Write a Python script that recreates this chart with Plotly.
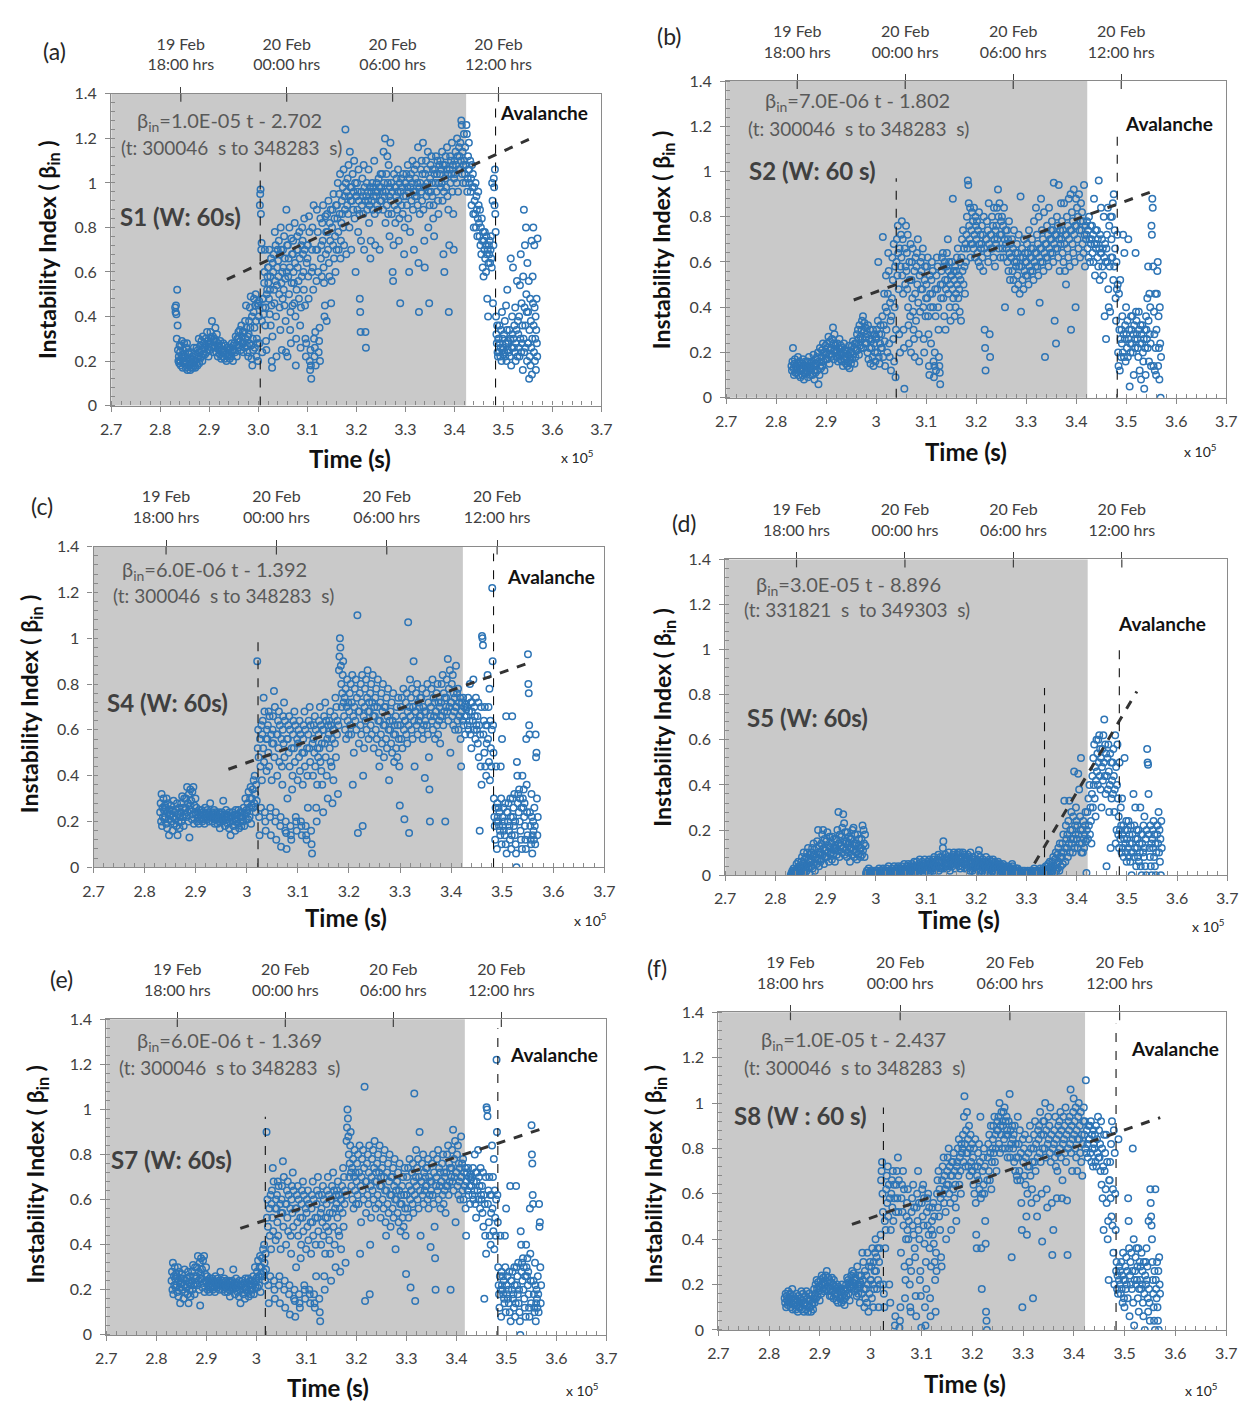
import plotly.graph_objects as go

# ---------------- DATA ----------------
T0 = 2.83          # start of first 0.01 (x1e5 s) time segment
SEG = 0.01         # segment width (x1e5 s)
# y values in hundredths, one string per 0.01 time segment (2.83 ... 3.57)
S1 = [
 "44 42 45 41 30 52 36 25 20 22 19 27", "24 20 18 27 22 29 21 17 25 19 23 28 20",
 "22 19 17 26 20 28 16 21 24 18 23 19", "18 16 21 17 24 19 22 17 20 26 18",
 "20 17 23 19 26 21 18 25 22 30 19", "24 21 27 22 29 25 20 31 23 26 28",
 "26 23 30 27 24 33 25 29 22 28", "28 25 33 30 26 38 27 31 24 29",
 "30 26 35 29 24 32 27 22 28 25", "26 23 29 25 21 27 24 22 28 25",
 "24 21 27 23 20 26 22 25 23", "23 21 26 24 22 28 25 20 27",
 "25 28 24 31 27 22 30 26 33", "30 27 34 29 25 36 31 28 33 24",
 "28 33 26 38 30 45 35 27 24 31 22", "32 38 28 44 35 49 27 21 40 18 30 25",
 "42 48 35 26 45 50 38 22 30 46 28 20", "45 40 47 28 90 95 97 86 70 73 38 24 48 44",
 "48 41 55 60 70 36 44 29 25 50 52 58 62", "55 62 48 70 41 52 58 36 66 45 20 17 31 64",
 "60 68 52 46 78 56 72 40 22 54 62 70", "65 58 74 50 44 68 34 80 70 55 25 60 48",
 "70 62 52 76 45 66 57 38 24 88 60 72 22", "72 58 66 50 80 62 34 42 28 75 55 68 45",
 "68 74 60 55 46 82 64 40 18 30 52 70 76", "62 70 56 48 78 66 36 26 44 72 58 80",
 "74 68 60 52 84 70 45 30 22 28 64 72", "66 72 58 48 85 78 20 16 25 18 12 60 70",
 "80 62 52 90 30 22 26 33 18 70 56 88", "70 78 60 24 29 35 20 84 66 72 58",
 "82 74 90 62 55 40 45 85 68 78 38", "86 78 70 92 64 58 82 74 88 46 56",
 "80 88 72 95 66 84 76 60 90 70", "90 84 100 78 70 95 86 104 66 74 82",
 "92 86 98 80 106 72 94 88 124 100 68", "96 90 102 86 108 94 80 114 98 92 70",
 "98 92 104 88 96 110 84 100 60 94", "94 100 88 96 78 106 92 86 48 42 33 74",
 "96 90 102 94 86 108 70 98 92 33 26", "94 100 88 96 92 106 82 90 98 66 74",
 "96 92 100 88 98 94 110 86 72 96", "94 100 90 96 88 102 98 70 92 104",
 "98 92 104 96 88 114 100 94 120 82", "96 104 90 112 100 86 108 94 76 98 118",
 "92 100 86 96 60 56 72 104 90 98 82", "98 94 102 88 96 106 92 74 84 100 46",
 "96 102 90 98 86 104 94 68 80 100", "100 94 104 90 98 108 84 96 60 102 78",
 "98 104 92 100 110 88 96 70 106 94", "102 96 108 94 100 90 116 64 42 98 86",
 "100 106 96 110 92 104 118 88 98 74 62", "104 98 110 94 106 100 114 80 96 46 90",
 "102 108 96 112 100 94 106 84 90 76 104", "106 100 112 96 104 110 92 86 100 108",
 "104 110 98 106 100 114 92 108 68 96 60", "108 102 112 98 106 116 94 104 88 42 72",
 "106 112 100 110 104 118 96 108 86 70 102", "110 104 114 108 100 120 112 96 106 116",
 "112 106 118 110 128 126 104 114 100 108 122", "110 104 116 100 108 126 122 96 102 112 106 118",
 "106 100 110 96 102 90 108 98 104 86 80", "98 92 86 100 80 94 88 76 84 96 90",
 "82 76 88 72 80 68 84 74 62 78 58", "74 70 78 66 72 60 76 68 48 70 40 64",
 "72 68 74 64 70 76 66 62 100 92 46 72", "102 98 90 106 86 78 40 32 28 36 24 22 30",
 "30 24 36 28 22 26 34 20 42 25 30 23", "26 32 24 38 22 28 45 20 34 52 25 29",
 "28 24 34 22 30 66 18 26 40 32 62", "30 26 36 24 44 20 28 34 56 22 38",
 "32 26 40 22 54 30 68 24 46 28 36 16", "58 30 88 24 44 72 36 26 80 50 42 20 64 28",
 "42 28 56 12 34 22 48 18 38 26 74 14 30 58", "46 80 36 24 72 44 20 30 40 16 34 48 28 22 75",
]
S2 = [
 "14 12 16 22 13 10 15 17 11 14", "13 11 15 18 10 14 16 12 9 13",
 "12 15 10 17 13 8 14 11 16 12", "14 11 16 9 13 18 12 15 10 14",
 "13 16 10 14 19 12 8 15 11 17", "15 18 12 20 6 16 10 22 14 13",
 "18 21 14 24 16 20 12 19 23 17", "20 24 17 22 27 19 15 25 21 18",
 "22 26 19 31 24 17 28 21 23 20", "21 18 24 16 22 19 26 20 17 23",
 "19 16 22 14 20 24 17 21 18 15", "17 21 14 19 16 23 13 18 20 15",
 "20 23 17 25 19 22 15 24 18 21", "24 28 21 30 26 19 32 23 27 22",
 "30 34 26 36 22 29 33 24 31 27", "24 28 20 32 17 26 22 30 15 25",
 "22 26 18 30 14 24 28 20 16 27", "26 30 20 34 60 18 28 15 24 32 22",
 "28 22 36 71 18 32 46 25 14 40 54", "30 38 20 46 64 56 24 18 42 34 12",
 "36 44 62 52 26 68 16 40 58 9 30", "60 70 54 76 64 48 28 66 20 58 72",
 "62 78 54 70 46 30 22 4 66 50 58 76", "56 64 48 72 40 32 24 60 52 36 68 20",
 "52 60 44 66 38 30 26 56 18 46 62 34", "58 64 50 70 42 28 16 54 38 60 48",
 "56 62 48 66 40 26 20 52 58 36 44", "50 58 44 62 36 28 14 10 54 46 40 24",
 "52 60 46 56 40 16 9 14 20 48 36 12", "54 62 48 58 40 30 18 14 11 6 50 44",
 "56 62 50 64 44 58 36 60 52 30 48", "58 64 52 70 46 56 60 40 50 34 54",
 "54 60 48 88 44 56 52 36 58 40 46", "56 62 50 66 44 54 48 38 60 52 34",
 "62 70 56 74 50 66 58 46 68 60", "72 80 66 96 94 86 76 70 84 62 68",
 "74 82 68 78 66 84 72 62 80 76", "70 78 64 74 60 82 68 58 72 66",
 "68 76 62 72 56 80 66 30 22 12 70", "70 78 64 74 60 86 68 28 18 72 66",
 "72 80 66 76 62 84 70 58 74 68", "76 84 70 92 80 66 86 72 62 78",
 "72 80 66 76 62 84 70 40 74 68", "66 74 60 70 56 78 64 52 68 62",
 "62 70 56 66 52 74 60 48 64 58", "60 68 54 64 50 72 58 46 62 89 38",
 "58 66 52 62 48 70 56 64 60 54", "60 68 54 64 50 74 58 62 56 66",
 "62 70 56 66 52 78 60 64 58 84", "64 72 58 68 54 80 62 42 66 60 88",
 "66 74 60 70 56 82 64 18 68 62", "68 76 62 72 58 84 66 70 64 74",
 "70 78 64 74 60 95 68 34 72 66 24", "72 80 66 76 62 94 70 56 74 68 86",
 "70 78 64 74 60 86 68 56 72 50", "72 80 66 76 62 88 70 58 74 90 30",
 "74 82 68 78 64 92 72 60 76 40 88", "76 84 70 80 66 90 74 62 78 86",
 "74 82 68 78 64 94 72 58 76 70", "72 78 66 74 62 80 70 60 76 68",
 "70 76 64 72 60 88 68 54 74 66", "68 74 62 70 58 96 66 52 72 64 84",
 "64 70 58 66 54 80 62 36 68 60 26", "66 72 60 84 48 40 76 58 38 80 62",
 "70 80 62 86 52 90 58 74 66 44 34", "60 48 72 50 20 14 46 30 12 52 26 18",
 "30 24 36 20 72 28 18 64 26 32 16 40", "28 22 34 18 70 26 30 5 24 20 36",
 "30 24 36 20 28 10 32 26 22 64 38", "34 28 26 22 18 38 30 12 24 32 8",
 "28 24 32 20 16 26 4 30 22 10 36", "30 26 44 22 58 34 16 46 28 40 24 14",
 "76 72 88 84 58 14 38 28 12 46 22 10", "30 46 56 60 14 36 22 8 40 24 0 18",
]
S4 = [
 "24 28 20 32 18 26 22 30 25 21 27", "22 26 19 30 17 24 28 21 14 25 23",
 "23 27 20 25 16 22 29 19 24 21", "21 25 18 28 14 23 20 26 17 22",
 "24 28 20 31 22 26 18 30 23 25", "26 30 22 35 24 28 20 32 13 27 34",
 "25 29 21 33 23 35 19 27 24 30", "23 26 20 24 22 19 25 21 23",
 "22 25 20 24 21 23 19 26 22", "23 21 25 22 24 20 23 28 22",
 "22 24 20 23 21 25 19 22 24", "21 23 19 22 24 20 17 23 21",
 "22 24 20 29 21 23 18 22 25", "21 23 19 22 17 24 20 14 22",
 "22 20 24 18 23 21 16 25 20", "21 23 19 25 17 22 24 20 18",
 "22 24 20 26 18 23 30 21 25", "24 28 21 33 26 22 30 35 19 27",
 "30 34 26 38 28 40 32 24 36 29", "90 52 60 48 22 14 56 44 26 62 38",
 "58 64 52 74 46 68 24 20 16 56 42 60", "56 62 50 68 44 66 22 26 14 58 38 54",
 "60 66 54 77 48 70 20 24 12 58 40", "58 64 52 68 46 62 18 22 9 56 44 36",
 "60 66 54 72 48 64 16 20 15 8 56 30", "56 62 50 66 44 60 18 14 12 52 34 40",
 "58 64 52 68 46 62 22 20 16 56 38", "54 60 48 64 42 58 20 18 14 50 36",
 "56 62 50 68 44 60 18 14 12 52 40 26", "58 64 52 70 46 62 16 10 6 54 40",
 "56 62 50 66 44 60 26 20 36 52 48", "58 64 52 70 46 62 42 54 36 60 24",
 "60 66 54 72 48 64 40 56 30 62", "58 64 52 68 46 62 44 56 28 60 38",
 "60 66 54 74 48 70 58 64 32 62", "86 92 100 96 88 80 70 76 84 90 72",
 "66 74 60 78 56 70 82 64 72 58", "68 76 62 80 58 72 84 36 66 50",
 "70 78 64 82 60 74 110 15 68 54", "68 76 62 80 58 72 84 18 40 66 52",
 "70 78 64 82 60 74 86 68 56 72", "68 76 62 80 58 72 84 66 52 70",
 "66 74 60 78 56 70 82 64 50 44", "64 72 58 76 54 68 80 62 48 70",
 "62 70 56 74 52 66 78 60 38 64", "60 68 54 72 50 64 76 58 46 62",
 "58 66 52 70 48 62 74 56 44 27", "62 70 56 74 52 66 78 60 21 64",
 "64 72 58 76 54 68 107 62 15 70 82", "66 74 60 78 56 70 90 64 44 68",
 "68 76 62 80 58 72 64 70 66 74", "66 74 60 78 56 70 62 68 39 64",
 "68 76 62 80 58 72 48 34 20 66", "70 78 64 82 60 74 66 72 56 68",
 "68 76 62 80 58 72 64 70 54 66", "72 80 66 84 62 76 68 74 20 70",
 "74 82 68 91 64 78 70 86 50 72", "72 80 66 84 62 76 68 74 60 70 88",
 "70 76 64 78 60 72 66 74 56 44", "68 72 64 74 62 70 66 58 71 69",
 "66 70 62 74 60 68 64 80 58 72 52", "68 72 64 82 60 70 66 56 74 62",
 "60 66 54 72 48 62 16 58 44 70 36", "101 100 97 58 64 50 70 44 62 40 54",
 "62 84 56 70 46 78 38 64 52 44 60", "122 90 62 50 30 22 18 12 26 44 20 8",
 "28 22 20 26 18 24 16 14 44 30 10 56", "22 18 26 16 20 14 28 10 66 6 24",
 "24 20 28 16 18 12 30 22 8 14 66", "30 22 26 18 32 14 20 10 6 0 46 40",
 "28 32 24 34 20 30 16 12 26 8 40", "30 26 34 22 28 18 12 8 56 36 24 14",
 "93 80 76 62 58 24 18 12 10 32 22 6 14", "20 16 12 26 18 10 58 48 50 30 14 22",
]
S5 = [
 "0 0 1 0 2 0 1 3 0 2 0 1", "0 2 5 1 3 0 6 2 4 1 0 3",
 "2 6 3 8 1 5 4 10 2 7 0 3", "4 8 2 10 5 12 3 7 1 6 9",
 "6 10 4 12 3 8 14 5 9 2 7", "8 12 5 15 7 20 10 4 13 9 6",
 "10 14 7 18 9 20 12 5 16 11 8", "11 15 8 19 10 13 6 17 12 9",
 "10 14 7 17 9 12 16 11 6 13", "12 16 9 20 11 28 14 8 18 13",
 "13 17 10 21 12 27 15 23 9 19 14", "11 15 8 19 10 14 17 12 6 16",
 "12 16 9 20 11 21 14 8 18 13", "10 14 7 18 9 13 16 11 12 8",
 "12 16 9 22 11 20 14 8 18 13", "1 0 2 0 1 0 3 0 1 0 2",
 "0 1 0 2 0 1 0 1 2 0", "0 1 2 0 1 0 3 1 0 2",
 "1 0 2 1 3 0 1 2 0 1", "1 3 0 2 1 4 0 2 1 0",
 "2 1 3 0 2 1 4 0 1 2", "1 3 2 0 4 1 2 3 0 1",
 "2 4 1 3 0 2 5 1 3 2", "3 1 4 2 5 0 3 1 2 4",
 "2 5 3 1 4 2 6 0 3 2", "3 6 2 4 1 5 3 7 2 4",
 "4 2 6 3 5 1 4 7 2 3", "3 5 2 6 4 1 7 3 5 2",
 "4 6 3 7 5 2 8 4 6 3", "5 3 7 4 9 2 6 4 8 3",
 "6 4 8 12 15 3 7 5 9 4", "5 7 3 8 4 10 6 2 7 5",
 "6 8 4 9 5 10 7 3 8 6", "7 9 5 10 6 4 8 10 3 7",
 "6 8 4 10 5 9 7 3 8 6", "5 7 3 9 4 8 6 2 10 5",
 "4 6 2 8 3 7 5 1 6 4", "5 7 3 9 4 11 6 2 8 5",
 "4 6 2 7 3 5 1 6 4 8", "3 5 1 6 2 4 7 0 5 3",
 "4 6 2 7 3 5 1 6 4 3", "3 5 1 6 2 4 0 5 3 2",
 "2 4 1 5 2 3 0 4 2 1", "1 3 0 4 1 2 0 3 1 2",
 "3 5 4 2 3 1 0 2 1 3", "2 1 3 0 2 1 0 2 1 0",
 "1 0 2 1 0 1 2 0 1 0", "0 1 2 0 1 0 1 2 0 1",
 "1 0 2 1 0 3 1 0 2 1", "0 1 0 2 1 0 1 3 0 1",
 "1 2 0 3 1 0 2 1 4 0", "2 4 1 5 3 0 6 2 4 1",
 "3 6 2 8 4 1 7 3 10 2", "5 9 3 12 6 2 14 8 4 10",
 "8 14 5 18 10 33 12 6 22 16", "12 18 8 24 14 33 10 20 16 28",
 "14 20 10 26 16 46 12 22 18 30 24", "16 22 12 45 18 38 14 26 20 52 10",
 "14 20 10 24 16 12 18 22 28 15 1", "20 28 16 34 22 40 18 30 24 14",
 "36 44 30 52 40 58 34 48 26 42 60", "46 54 40 60 50 62 44 56 38 52 30",
 "48 56 42 62 50 69 44 58 36 54 4", "44 52 38 58 46 28 40 54 12 50 34",
 "42 50 36 56 44 28 38 62 14 48 20", "40 58 34 18 26 12 50 20 16 30 22 10",
 "34 18 12 22 8 16 52 20 14 10 24 6", "16 20 12 24 8 18 14 6 22 10 0",
 "14 18 10 36 8 22 12 30 16 4 20", "12 16 8 20 6 14 10 30 4 18 0",
 "14 18 10 22 8 26 12 4 16 0 20", "56 50 49 36 18 12 8 22 4 14 0",
 "16 20 12 24 8 18 4 14 0 10 22", "18 22 14 28 10 20 6 16 0 24 12",
]
S7 = list(S4)   # S7 panel shows the same pattern as S4
S8 = [
 "14 12 16 10 15 13 11 17 12 14", "13 16 10 14 12 18 9 15 11 13",
 "12 14 9 16 11 13 8 15 10 12", "10 14 12 17 9 13 16 11 8 12",
 "12 15 9 17 11 14 8 13 16 10", "10 13 8 15 11 12 9 14 18 12",
 "16 20 14 22 18 15 21 17 19 13", "19 22 16 24 20 18 23 21 17 20",
 "20 24 18 26 21 17 23 19 22 15", "18 21 15 23 17 20 14 22 19 16",
 "15 18 13 20 16 12 19 17 14 18", "14 17 12 20 15 13 18 16 11 14",
 "17 20 15 23 18 22 16 21 13 19", "20 24 18 26 21 19 25 22 17 23",
 "18 22 15 28 20 16 24 19 12 21", "20 24 16 34 22 30 18 10 26 14",
 "18 24 12 34 20 8 28 16 30 22", "22 28 14 36 20 10 30 18 26 34 40",
 "26 32 18 36 22 10 30 36 20 42", "66 70 74 60 52 20 16 10 48 36 44",
 "62 68 56 72 50 64 20 58 12 44", "60 66 54 70 48 64 58 2 6 52",
 "64 70 58 76 52 66 1 4 10 34", "58 64 52 70 46 62 28 14 22 40",
 "50 56 44 62 40 48 30 20 10 8 26", "52 58 46 64 42 54 36 32 15 6",
 "54 60 48 70 44 56 40 22 26 15 1", "56 62 50 64 46 58 38 10 2 30 18",
 "52 58 46 60 42 54 36 14 6 28 44", "48 54 42 56 38 50 30 22 8 34 26",
 "60 66 54 70 50 62 44 58 32 28", "66 72 60 76 56 68 62 52 40 64",
 "70 76 64 80 60 72 56 68 44 74", "68 74 62 78 58 70 64 54 48 72",
 "74 80 68 84 64 76 70 60 82 78", "80 86 74 94 103 82 72 88 78 96",
 "78 84 72 90 68 80 86 74 70 82", "70 76 64 80 60 72 84 56 42 36 68",
 "72 78 66 82 62 74 94 58 36 18 60", "70 76 64 80 60 72 48 38 8 4 0 66",
 "76 82 70 86 66 78 90 62 74 80", "84 90 78 94 74 86 80 70 88 92",
 "88 94 82 100 78 90 86 96 80 92", "90 96 84 98 80 92 86 94 88 76",
 "86 92 80 104 76 88 82 32 90 84", "80 86 74 90 70 82 76 68 66 94",
 "76 82 70 88 66 78 56 44 10 84", "74 80 68 86 64 76 50 42 60 72",
 "78 84 72 90 68 80 56 62 74 14", "80 86 74 92 70 82 58 50 76 88",
 "84 90 78 96 74 86 60 39 80 92", "86 92 80 100 76 88 62 54 82 94",
 "84 90 78 98 74 86 56 33 80 44", "82 88 76 94 72 84 58 70 78 90",
 "86 92 80 96 76 88 58 66 82 94", "84 90 78 98 74 86 57 33 80 92",
 "88 94 82 106 78 90 70 84 96 102", "86 92 80 98 76 88 70 84 94 100",
 "84 90 78 96 74 86 68 82 92 98", "86 92 80 110 78 88 82 76 90 84",
 "84 90 78 92 74 86 80 72 88 82", "80 86 74 90 72 84 78 94 76 88",
 "76 82 70 92 64 80 58 72 44 86", "70 78 62 86 56 74 40 48 22 66",
 "66 74 58 82 50 92 46 62 34 88 20", "78 60 44 26 30 18 24 16 84 22 28",
 "20 26 16 30 18 24 12 34 22 14 10", "22 28 18 32 20 26 14 58 48 36 6",
 "24 30 20 34 18 26 80 12 40 2 22", "26 32 20 36 22 28 14 36 8 18 30",
 "22 28 18 34 20 26 12 6 30 16 0", "24 30 20 36 22 28 14 8 48 18 12 4",
 "62 56 50 46 40 30 22 16 10 4 26 0", "62 22 18 14 30 10 4 26 0 32 20 16",
]

SERIES = [S1, S2, S4, S5, S7, S8]
PANEL_LABELS = ["(a)", "(b)", "(c)", "(d)", "(e)", "(f)"]
SENSOR_LABELS = ["S1 (W: 60s)", "S2 (W: 60 s)", "S4 (W: 60s)", "S5 (W: 60s)", "S7 (W: 60s)", "S8 (W : 60 s)"]
EQ_TEXT = ["β<sub>in</sub>=1.0E-05 t - 2.702", "β<sub>in</sub>=7.0E-06 t - 1.802",
           "β<sub>in</sub>=6.0E-06 t - 1.392", "β<sub>in</sub>=3.0E-05 t - 8.896",
           "β<sub>in</sub>=6.0E-06 t - 1.369", "β<sub>in</sub>=1.0E-05 t - 2.437"]
RANGE_TEXT = ["(t: 300046&nbsp; s to 348283&nbsp; s)", "(t: 300046&nbsp; s to 348283&nbsp; s)",
              "(t: 300046&nbsp; s to 348283&nbsp; s)", "(t: 331821&nbsp; s&nbsp; to 349303&nbsp; s)",
              "(t: 300046&nbsp; s to 348283&nbsp; s)", "(t: 300046&nbsp; s to 348283&nbsp; s)"]
FIT_X = [[2.936, 3.552], [2.955, 3.551], [2.964, 3.557], [3.316, 3.520], [2.968, 3.571], [2.963, 3.570]]
FIT_Y = [[0.567, 1.196], [0.432, 0.911], [0.428, 0.896], [0.052, 0.815], [0.472, 0.914], [0.465, 0.936]]
ONSET_T = [3.004, 3.040, 3.022, 3.336, 3.018, 3.025]
ONSET_TOP = [1.12, 0.97, 0.985, 0.83, 0.967, 0.98]
AVAL_T = [3.484, 3.482, 3.483, 3.485, 3.483, 3.483]
AVAL_TOP = [1.35, 1.18, 1.37, 1.02, 1.36, 1.35]
GRAY_END = [3.424, 3.422, 3.423, 3.422, 3.417, 3.422]
TOP_TICK_T = [2.842, 3.058, 3.274, 3.49]
TOP_TICK_TEXT = ["19 Feb<br>18:00 hrs", "20 Feb<br>00:00 hrs", "20 Feb<br>06:00 hrs", "20 Feb<br>12:00 hrs"]

# ---------------- LAYOUT GEOMETRY (px) ----------------
W, H = 1252, 1408
BOX = [(102, 601, 85, 401), (728, 1237, 72, 393), (84, 604, 544, 869),
       (727, 1238, 557, 877), (97, 606, 1023, 1343), (720, 1237, 1016, 1338)]
# text positions: label, eq1, eq2, sensor, avalanche, time, x10^5, ytitle
POS = [
 dict(lab=(44, 42), eq1=(222, 113), eq2=(224, 139), sen=(173, 209), av=(543, 104), tm=(345, 455), p10=(577, 453), yt=(38, 243)),
 dict(lab=(670, 26), eq1=(862, 93), eq2=(863, 120), sen=(816, 163), av=(1179, 115), tm=(972, 448), p10=(1211, 447), yt=(664, 233)),
 dict(lab=(32, 503), eq1=(207, 568), eq2=(216, 594), sen=(159, 702), av=(550, 574), tm=(341, 920), p10=(590, 922), yt=(20, 703)),
 dict(lab=(686, 520), eq1=(852, 583), eq2=(861, 608), sen=(811, 717), av=(1172, 622), tm=(965, 922), p10=(1219, 928), yt=(664, 717)),
 dict(lab=(51, 982), eq1=(222, 1046), eq2=(222, 1072), sen=(163, 1165), av=(553, 1059), tm=(323, 1396), p10=(582, 1398), yt=(26, 1180)),
 dict(lab=(658, 971), eq1=(858, 1045), eq2=(859, 1072), sen=(804, 1121), av=(1185, 1053), tm=(971, 1392), p10=(1212, 1398), yt=(655, 1180)),
]

FONT = "Lato"
TICK_COL = "#404040"
AX_COL = "#8a8a8a"
PT_COL = "#2e75b6"


def px(x):
    return x / W


def py(y):
    return 1 - y / H


def expand(segs):
    xs, ys = [], []
    for k, s in enumerate(segs):
        vals = [int(v) / 100 for v in s.split()]
        n = len(vals)
        for i, v in enumerate(vals):
            xs.append(T0 + SEG * k + SEG * (i + 0.5) / n)
            ys.append(v)
    return xs, ys


fig = go.Figure()
shapes, annotations = [], []

for i in range(6):
    n = i + 1
    xa = "x" if n == 1 else f"x{n}"
    ya = "y" if n == 1 else f"y{n}"
    xtop = f"x{n + 6}"
    l, r, t, b = BOX[i]
    xs, ys = expand(SERIES[i])
    fig.add_trace(go.Scatter(
        x=xs, y=ys, mode="markers", xaxis=xa, yaxis=ya, showlegend=False,
        marker=dict(symbol="circle-open", size=6.5, color=PT_COL, line=dict(width=1.5, color=PT_COL))))
    fig.add_trace(go.Scatter(
        x=FIT_X[i], y=FIT_Y[i], mode="lines", xaxis=xa, yaxis=ya, showlegend=False,
        line=dict(color="#333333", width=3, dash="dash")))
    # empty trace on the top (date) axis
    fig.add_trace(go.Scatter(x=[None], y=[None], xaxis=xtop, yaxis=ya, showlegend=False, mode="markers"))

    xkey = "xaxis" if n == 1 else f"xaxis{n}"
    ykey = "yaxis" if n == 1 else f"yaxis{n}"
    common = dict(showgrid=False, zeroline=False, showline=True, linecolor=AX_COL, linewidth=1.2,
                  mirror=True, ticks="outside", tickcolor=AX_COL, ticklen=5,
                  tickfont=dict(family=FONT, size=16, color=TICK_COL))
    fig.layout[xkey] = dict(domain=[px(l), px(r)], anchor=ya, range=[2.7, 3.7], dtick=0.1, tick0=2.7,
                            tickformat=".1f" if i == 0 else "", ticklabelstandoff=4,
                            minor=dict(ticks="inside", dtick=0.02, ticklen=4, tickcolor=AX_COL), **common)
    fig.layout[ykey] = dict(domain=[py(b), py(t)], anchor=xa, range=[0, 1.4], dtick=0.2, ticklabelstandoff=5,
                            minor=dict(ticks="inside", dtick=0.04, ticklen=4, tickcolor=AX_COL), **common)
    fig.layout[f"xaxis{n + 6}"] = dict(overlaying=xa, anchor=ya, side="top", range=[2.7, 3.7],
                                       tickvals=TOP_TICK_T, ticktext=TOP_TICK_TEXT, ticks="outside",
                                       ticklen=6, tickcolor="#404040", tickwidth=1.2, showgrid=False,
                                       zeroline=False, showline=False, ticklabelstandoff=10,
                                       tickfont=dict(family=FONT, size=16, color=TICK_COL))

    # shaded pre-avalanche region
    shapes.append(dict(type="rect", xref=xa, yref=f"{ya} domain", x0=2.7, x1=GRAY_END[i], y0=0, y1=1,
                       fillcolor="#c9c9c9", line=dict(width=0), layer="below"))
    # inward part of top ticks
    for tv in TOP_TICK_T:
        shapes.append(dict(type="line", xref=xa, yref=f"{ya} domain", x0=tv, x1=tv, y0=1, y1=1 - 8 / (b - t),
                           line=dict(color="#404040", width=1.2)))
    # vertical dashed markers
    shapes.append(dict(type="line", xref=xa, yref=ya, x0=ONSET_T[i], x1=ONSET_T[i], y0=0, y1=ONSET_TOP[i],
                       line=dict(color="#111111", width=1.1, dash="dash")))
    shapes.append(dict(type="line", xref=xa, yref=ya, x0=AVAL_T[i], x1=AVAL_T[i], y0=0, y1=AVAL_TOP[i],
                       line=dict(color="#111111", width=1.1, dash="dash")))

    P = POS[i]

    def ann(key, text, size, color, bold=False, angle=0):
        x, y = P[key]
        annotations.append(dict(xref="paper", yref="paper", x=px(x), y=py(y), text=text, showarrow=False,
                                xanchor="center", yanchor="middle", textangle=angle,
                                font=dict(family=FONT, size=size, color=color,
                                          weight="bold" if bold else "normal")))

    ann("lab", PANEL_LABELS[i], 23, "#262626")
    ann("eq1", EQ_TEXT[i], 20, "#595959")
    ann("eq2", RANGE_TEXT[i], 19, "#595959")
    ann("sen", SENSOR_LABELS[i], 24, "#404040", bold=True)
    ann("av", "Avalanche", 19, "#111111", bold=True)
    ann("tm", "Time (s)", 24, "#111111", bold=True)
    ann("p10", "x 10<sup>5</sup>", 14, "#262626")
    ann("yt", "Instability Index ( β<sub>in</sub> )", 23, "#111111", bold=True, angle=-90)

fig.update_layout(width=W, height=H, margin=dict(l=0, r=0, t=0, b=0), paper_bgcolor="white",
                  plot_bgcolor="white", shapes=shapes, annotations=annotations,
                  font=dict(family=FONT))
fig.write_html("out.html")
